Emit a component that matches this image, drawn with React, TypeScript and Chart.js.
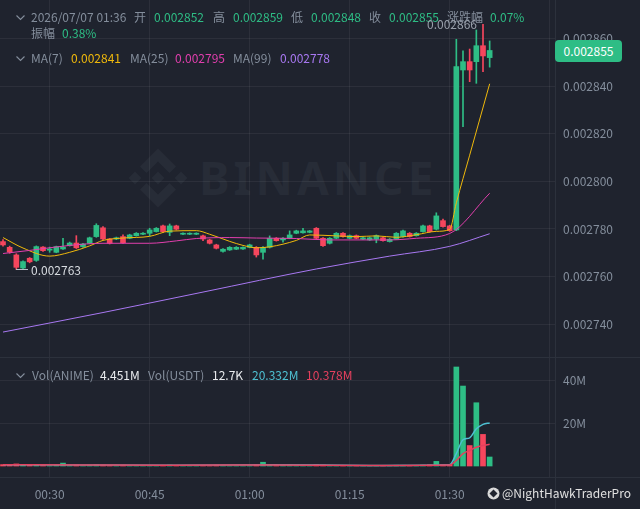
import React, { useEffect, useRef } from "react";
import { Chart, registerables } from "chart.js";

Chart.register(...registerables);

// ---------- data (1-minute candles, 00:23 … 01:36) ----------
const OPEN = [
  0.0027747, 0.0027723, 0.0027691, 0.0027636, 0.0027677, 0.0027668, 0.0027724, 0.0027711, 0.0027702, 0.0027716,
  0.0027730, 0.0027741, 0.0027726, 0.0027740, 0.0027768, 0.0027805, 0.0027758, 0.0027758, 0.0027768, 0.0027761,
  0.0027772, 0.0027778, 0.0027782, 0.0027789, 0.0027813, 0.0027786, 0.0027813, 0.0027778, 0.0027778, 0.0027778,
  0.0027771, 0.0027754, 0.0027733, 0.0027706, 0.0027712, 0.0027715, 0.0027716, 0.0027723, 0.0027723, 0.0027702,
  0.0027723, 0.0027761, 0.0027754, 0.0027761, 0.0027782, 0.0027784, 0.0027786, 0.0027803, 0.0027761, 0.0027740,
  0.0027761, 0.0027782, 0.0027761, 0.0027772, 0.0027757, 0.0027754, 0.0027757, 0.0027763, 0.0027747, 0.0027757,
  0.0027768, 0.0027782, 0.0027772, 0.0027789, 0.0027813, 0.0027799, 0.0027835, 0.0027813, 0.0027796, 0.0028468,
  0.0028503, 0.0028503, 0.0028570, 0.0028520,
];
const HIGH = [
  0.0027755, 0.0027728, 0.0027696, 0.0027666, 0.0027680, 0.0027729, 0.0027726, 0.0027724, 0.0027728, 0.0027761,
  0.0027745, 0.0027772, 0.0027740, 0.0027766, 0.0027822, 0.0027810, 0.0027760, 0.0027766, 0.0027775, 0.0027778,
  0.0027785, 0.0027785, 0.0027803, 0.0027806, 0.0027816, 0.0027821, 0.0027816, 0.0027784, 0.0027784, 0.0027784,
  0.0027774, 0.0027757, 0.0027736, 0.0027718, 0.0027726, 0.0027726, 0.0027725, 0.0027736, 0.0027726, 0.0027726,
  0.0027771, 0.0027764, 0.0027764, 0.0027792, 0.0027795, 0.0027803, 0.0027794, 0.0027806, 0.0027764, 0.0027764,
  0.0027785, 0.0027785, 0.0027775, 0.0027775, 0.0027766, 0.0027766, 0.0027775, 0.0027766, 0.0027760, 0.0027785,
  0.0027795, 0.0027785, 0.0027785, 0.0027816, 0.0027816, 0.0027868, 0.0027842, 0.0027816, 0.0028597, 0.0028548,
  0.0028556, 0.0028636, 0.0028660, 0.0028590,
];
const LOW = [
  0.0027728, 0.0027698, 0.0027630, 0.0027632, 0.0027658, 0.0027664, 0.0027706, 0.0027702, 0.0027700, 0.0027714,
  0.0027728, 0.0027718, 0.0027723, 0.0027738, 0.0027765, 0.0027755, 0.0027737, 0.0027755, 0.0027739, 0.0027759,
  0.0027770, 0.0027776, 0.0027772, 0.0027787, 0.0027786, 0.0027772, 0.0027796, 0.0027776, 0.0027776, 0.0027776,
  0.0027751, 0.0027737, 0.0027716, 0.0027703, 0.0027710, 0.0027713, 0.0027714, 0.0027721, 0.0027682, 0.0027673,
  0.0027720, 0.0027749, 0.0027745, 0.0027759, 0.0027780, 0.0027782, 0.0027784, 0.0027759, 0.0027727, 0.0027737,
  0.0027759, 0.0027766, 0.0027759, 0.0027759, 0.0027755, 0.0027752, 0.0027742, 0.0027749, 0.0027745, 0.0027755,
  0.0027766, 0.0027766, 0.0027770, 0.0027787, 0.0027787, 0.0027796, 0.0027808, 0.0027790, 0.0027793, 0.0028230,
  0.0028419, 0.0028412, 0.0028461, 0.0028480,
];
const CLOSE = [
  0.0027733, 0.0027703, 0.0027639, 0.0027663, 0.0027662, 0.0027726, 0.0027709, 0.0027716, 0.0027726, 0.0027724,
  0.0027741, 0.0027721, 0.0027737, 0.0027763, 0.0027815, 0.0027758, 0.0027740, 0.0027763, 0.0027742, 0.0027775,
  0.0027782, 0.0027782, 0.0027796, 0.0027803, 0.0027789, 0.0027813, 0.0027799, 0.0027782, 0.0027782, 0.0027782,
  0.0027758, 0.0027740, 0.0027719, 0.0027715, 0.0027723, 0.0027723, 0.0027723, 0.0027733, 0.0027691, 0.0027723,
  0.0027761, 0.0027751, 0.0027761, 0.0027775, 0.0027792, 0.0027792, 0.0027792, 0.0027761, 0.0027730, 0.0027761,
  0.0027782, 0.0027768, 0.0027772, 0.0027761, 0.0027763, 0.0027763, 0.0027772, 0.0027751, 0.0027757, 0.0027782,
  0.0027792, 0.0027768, 0.0027782, 0.0027813, 0.0027789, 0.0027855, 0.0027810, 0.0027793, 0.0028482, 0.0028503,
  0.0028468, 0.0028570, 0.0028527, 0.0028550,
];
// volume, millions of ANIME
const VOLUME_M = [
  0.9, 0.7, 1.2, 0.8, 0.6, 0.9, 0.5, 0.4, 0.6, 1.6,
  0.5, 0.7, 0.4, 0.6, 0.9, 0.7, 0.5, 0.3, 0.6, 0.4,
  0.5, 0.3, 0.5, 0.4, 0.6, 0.7, 0.5, 0.3, 0.3, 0.3,
  0.5, 0.4, 0.6, 0.4, 0.3, 0.3, 0.3, 0.4, 0.9, 2.0,
  1.0, 0.5, 0.6, 0.8, 0.5, 0.4, 0.3, 0.8, 0.7, 0.6,
  0.5, 0.4, 0.3, 0.3, 0.3, 0.3, 0.5, 0.4, 0.4, 0.6,
  0.6, 0.5, 0.4, 0.7, 0.8, 2.4, 0.9, 0.8, 46.5, 37.6,
  9.8, 29.8, 15.0, 4.451,
];

// moving-average lines (candle index -> value)
const MA7_IDX = [0, 3, 7, 10, 13, 15, 18, 22, 25, 29, 31, 34, 36, 38, 40, 44, 46, 50, 53, 56, 59, 62, 65, 67, 68, 70, 73];
const MA7_VAL = [
  0.0027764, 0.0027720, 0.0027686, 0.0027702, 0.0027729, 0.0027752, 0.0027762, 0.0027769, 0.0027791, 0.0027793,
  0.0027778, 0.0027748, 0.0027731, 0.0027721, 0.0027725, 0.0027752, 0.0027775, 0.0027771, 0.0027768, 0.0027771,
  0.0027765, 0.0027776, 0.0027790, 0.0027798, 0.0027910, 0.0028110, 0.0028410,
];
const MA25_IDX = [0, 4, 10, 15, 22, 26, 29, 34, 38, 44, 49, 58, 62, 67, 73];
const MA25_VAL = [
  0.0027697, 0.0027710, 0.0027731, 0.0027740, 0.0027740, 0.0027750, 0.0027760, 0.0027764, 0.0027762, 0.0027760,
  0.0027754, 0.0027754, 0.0027761, 0.0027781, 0.0027950,
];
const MA99_IDX = [0, 15, 30, 47, 58, 67, 73];
const MA99_VAL = [0.0027367, 0.0027449, 0.0027535, 0.0027632, 0.0027686, 0.0027727, 0.0027780];

const VMA_IDX = [0, 12, 25, 40, 55, 67, 68, 69, 70, 71, 72, 73];
const VMA_A = [0.8, 0.7, 0.6, 0.8, 0.5, 0.8, 6.0, 12.5, 13.4, 17.6, 19.7, 20.332];
const VMA_B = [0.8, 0.7, 0.6, 0.7, 0.5, 0.7, 2.8, 6.0, 7.5, 9.0, 9.8, 10.378];

const TIME_TICK_IDX = [7, 22, 37, 52, 67, 82];
const TIME_TICK_LABELS = ["00:30", "00:45", "01:00", "01:15", "01:30", ""];

const HEADER_TIME = "2026/07/07 01:36";
const CHANGE_PCT = "0.07%";
const AMPLITUDE_PCT = "0.38%";
const VOL_USDT = "12.7K";
const LOW_MARK = 0.002763;
const HIGH_MARK = 0.002866;

// ---------- style ----------
const BG = "#1f232e";
const GREEN = "#2ebd85";
const RED = "#f6465d";
const GRID = "rgba(255,255,255,0.06)";
const SEP = "#2c313c";
const TXT = "#848e9c";
const YELLOW = "#f0b90b";
const PINK = "#e23fae";
const PURPLE = "#a878f2";
const CYAN = "#4ec0d2";
const VRED = "#e5405e";
const FONT = '"Noto Sans CJK SC", "Noto Sans", sans-serif';

const X_MIN = -0.45;
const X_MAX = 82.8;
const P_MIN = 0.0027258;
const P_MAX = 0.0028762;
const V_MIN = -4.9;
const V_MAX = 50.7;

const IDX = OPEN.map((_, i) => i);
const COLORS = IDX.map((i) => (CLOSE[i] >= OPEN[i] ? GREEN : RED));
const LAST = OPEN.length - 1;

const pts = (xs: number[], ys: number[]) => xs.map((x, k) => ({ x, y: ys[k] }));

function Chevron({ left, top }: { left: number; top: number }) {
  return (
    <svg width={9} height={6} style={{ position: "absolute", left, top }}>
      <polyline points="0.5,0.5 4.5,4.5 8.5,0.5" fill="none" stroke={TXT} strokeWidth={1.1} />
    </svg>
  );
}

function T({ left, top, color, children, size }: any) {
  return (
    <span
      style={{
        position: "absolute",
        left,
        top,
        color,
        fontSize: size || 12,
        lineHeight: "14px",
        whiteSpace: "nowrap",
      }}
    >
      {children}
    </span>
  );
}

export default function App() {
  const priceRef = useRef<HTMLCanvasElement>(null);
  const volRef = useRef<HTMLCanvasElement>(null);

  useEffect(() => {
    const tickFont = { family: FONT, size: 12 };
    const xScale = (showLabels: boolean) => ({
      type: "linear",
      min: X_MIN,
      max: X_MAX,
      offset: false,
      grid: { color: GRID, drawTicks: false, offset: false },
      border: { display: false },
      ticks: {
        display: showLabels,
        autoSkip: false,
        maxRotation: 0,
        color: TXT,
        font: tickFont,
        padding: 10,
        callback: (_v: any, i: number) => TIME_TICK_LABELS[i],
      },
      afterBuildTicks: (s: any) => {
        s.ticks = TIME_TICK_IDX.map((v) => ({ value: v }));
      },
      afterFit: (s: any) => {
        s.height = showLabels ? 32 : 0;
        s.paddingLeft = 0;
        s.paddingRight = 0;
      },
    });

    const lineDs = (label: string, xs: number[], ys: number[], color: string, width = 1) => ({
      type: "line",
      label,
      data: pts(xs, ys),
      borderColor: color,
      borderWidth: width,
      pointRadius: 0,
      cubicInterpolationMode: "monotone",
      order: 0,
    });

    const c1 = new Chart(priceRef.current as HTMLCanvasElement, {
      type: "line",
      data: {
        datasets: [
          lineDs("MA99", MA99_IDX, MA99_VAL, PURPLE),
          lineDs("MA25", MA25_IDX, MA25_VAL, PINK),
          lineDs("MA7", MA7_IDX, MA7_VAL, YELLOW),
          {
            type: "bar",
            label: "wick",
            data: IDX.map((i) => ({ x: i, y: [LOW[i], HIGH[i]] })),
            backgroundColor: COLORS,
            barThickness: 1,
            grouped: false,
            order: 2,
          },
          {
            type: "bar",
            label: "body",
            data: IDX.map((i) => ({ x: i, y: [Math.min(OPEN[i], CLOSE[i]), Math.max(OPEN[i], CLOSE[i])] })),
            backgroundColor: COLORS,
            barThickness: 5,
            minBarLength: 1,
            grouped: false,
            order: 1,
          },
        ] as any,
      },
      options: {
        animation: false,
        responsive: false,
        maintainAspectRatio: false,
        events: [],
        layout: { padding: 0 },
        plugins: { legend: { display: false }, tooltip: { enabled: false } },
        scales: {
          x: xScale(false) as any,
          y: {
            type: "linear",
            position: "right",
            min: P_MIN,
            max: P_MAX,
            beginAtZero: false,
            grid: { color: GRID, drawTicks: false },
            border: { display: false },
            ticks: {
              stepSize: 0.00002,
              includeBounds: false,
              color: TXT,
              font: tickFont,
              padding: 8,
              callback: (v: any) => Number(v).toFixed(6),
            },
            afterFit: (s: any) => {
              s.width = 85;
              s.paddingTop = 0;
              s.paddingBottom = 0;
            },
          } as any,
        },
      },
    });

    const c2 = new Chart(volRef.current as HTMLCanvasElement, {
      type: "line",
      data: {
        datasets: [
          lineDs("vmaB", VMA_IDX, VMA_B, VRED, 1.5),
          lineDs("vmaA", VMA_IDX, VMA_A, CYAN, 1.5),
          {
            type: "bar",
            label: "vol",
            data: IDX.map((i) => ({ x: i, y: VOLUME_M[i] })),
            backgroundColor: COLORS,
            barThickness: 5,
            grouped: false,
            order: 1,
          },
        ] as any,
      },
      options: {
        animation: false,
        responsive: false,
        maintainAspectRatio: false,
        events: [],
        layout: { padding: 0 },
        plugins: { legend: { display: false }, tooltip: { enabled: false } },
        scales: {
          x: xScale(true) as any,
          y: {
            type: "linear",
            position: "right",
            min: V_MIN,
            max: V_MAX,
            beginAtZero: false,
            grid: {
              drawTicks: false,
              color: (ctx: any) => (ctx.tick && ctx.tick.value === 0 ? "rgba(0,0,0,0)" : GRID),
            },
            border: { display: false },
            ticks: {
              stepSize: 20,
              includeBounds: false,
              color: TXT,
              font: tickFont,
              padding: 8,
              callback: (v: any) => (Number(v) === 0 ? "" : `${v}M`),
            },
            afterFit: (s: any) => {
              s.width = 85;
              s.paddingTop = 0;
              s.paddingBottom = 0;
            },
          } as any,
        },
      },
    });

    return () => {
      c1.destroy();
      c2.destroy();
    };
  }, []);

  const f6 = (v: number) => v.toFixed(6);
  const row1 = 10;
  const row2 = 26;
  const rowMA = 51;
  const rowV = 368;

  return (
    <div
      style={{
        position: "fixed",
        left: 0,
        top: 0,
        width: 640,
        height: 509,
        background: BG,
        overflow: "hidden",
        fontFamily: FONT,
      }}
    >
      {/* watermark */}
      <svg width={60} height={60} viewBox="0 0 60 60" style={{ position: "absolute", left: 128, top: 148 }}>
        <g fill="#272c37">
          <polygon points="30,23.5 36.5,30 30,36.5 23.5,30" />
          <polygon points="7,23.5 13.5,30 7,36.5 0.5,30" />
          <polygon points="53,23.5 59.5,30 53,36.5 46.5,30" />
          <polygon points="30,0.5 48,18.5 41.5,25 30,13.5 18.5,25 12,18.5" />
          <polygon points="30,59.5 48,41.5 41.5,35 30,46.5 18.5,35 12,41.5" />
        </g>
      </svg>
      <div
        style={{
          position: "absolute",
          left: 199,
          top: 154,
          fontFamily: '"Noto Sans", sans-serif',
          fontWeight: 700,
          fontSize: 46,
          lineHeight: "46px",
          letterSpacing: 4,
          color: "#272c37",
          whiteSpace: "nowrap",
        }}
      >
        BINANCE
      </div>

      <canvas ref={priceRef} width={640} height={358} style={{ position: "absolute", left: 0, top: 0 }} />
      <canvas ref={volRef} width={640} height={151} style={{ position: "absolute", left: 0, top: 358 }} />

      {/* pane separators */}
      <div style={{ position: "absolute", left: 0, top: 357, width: 640, height: 1, background: SEP }} />
      <div style={{ position: "absolute", left: 0, top: 477, width: 640, height: 1, background: SEP }} />
      <div style={{ position: "absolute", left: 555, top: 0, width: 1, height: 509, background: SEP }} />

      {/* header legend */}
      <Chevron left={16} top={row1 + 5} />
      <T left={31} top={row1} color={TXT}>{HEADER_TIME}</T>
      <T left={134} top={row1} color={TXT}>开</T>
      <T left={154} top={row1} color={GREEN}>{f6(OPEN[LAST])}</T>
      <T left={213} top={row1} color={TXT}>高</T>
      <T left={233} top={row1} color={GREEN}>{f6(HIGH[LAST])}</T>
      <T left={291} top={row1} color={TXT}>低</T>
      <T left={311} top={row1} color={GREEN}>{f6(LOW[LAST])}</T>
      <T left={369} top={row1} color={TXT}>收</T>
      <T left={389} top={row1} color={GREEN}>{f6(CLOSE[LAST])}</T>
      <T left={447} top={row1} color={TXT}>涨跌幅</T>
      <T left={490} top={row1} color={GREEN}>{CHANGE_PCT}</T>
      <T left={31} top={row2} color={TXT}>振幅</T>
      <T left={62} top={row2} color={GREEN}>{AMPLITUDE_PCT}</T>

      <Chevron left={16} top={rowMA + 5} />
      <T left={31} top={rowMA} color={TXT}>MA(7)</T>
      <T left={71} top={rowMA} color={YELLOW}>{f6(MA7_VAL[MA7_VAL.length - 1])}</T>
      <T left={130} top={rowMA} color={TXT}>MA(25)</T>
      <T left={175} top={rowMA} color={PINK}>{f6(MA25_VAL[MA25_VAL.length - 1])}</T>
      <T left={233} top={rowMA} color={TXT}>MA(99)</T>
      <T left={280} top={rowMA} color={PURPLE}>{f6(MA99_VAL[MA99_VAL.length - 1])}</T>

      {/* high / low markers */}
      <T left={427} top={17} color="#9aa1ac">{f6(HIGH_MARK)}</T>
      <div style={{ position: "absolute", left: 16, top: 269, width: 12, height: 1, background: "#b7bdc6" }} />
      <T left={31} top={263} color="#d8dce1">{f6(LOW_MARK)}</T>

      {/* last price tag */}
      <div
        style={{
          position: "absolute",
          left: 555,
          top: 40,
          width: 67,
          height: 22,
          borderRadius: 4,
          background: GREEN,
          color: "#ffffff",
          fontSize: 12,
          lineHeight: "22px",
          textAlign: "center",
        }}
      >
        {f6(CLOSE[LAST])}
      </div>

      {/* volume legend */}
      <Chevron left={16} top={rowV + 5} />
      <T left={32} top={rowV} color={TXT}>Vol(ANIME)</T>
      <T left={100} top={rowV} color="#eaecef">{`${VOLUME_M[LAST].toFixed(3)}M`}</T>
      <T left={148} top={rowV} color={TXT}>Vol(USDT)</T>
      <T left={212} top={rowV} color="#eaecef">{VOL_USDT}</T>
      <T left={252} top={rowV} color={CYAN}>{`${VMA_A[VMA_A.length - 1].toFixed(3)}M`}</T>
      <T left={306} top={rowV} color={VRED}>{`${VMA_B[VMA_B.length - 1].toFixed(3)}M`}</T>

      {/* author watermark */}
      <svg width={13} height={13} viewBox="0 0 13 13" style={{ position: "absolute", left: 487, top: 487 }}>
        <circle cx={6.5} cy={6.5} r={6} fill="#d9d9d9" />
        <polygon points="6.5,2.5 10.5,6.5 6.5,10.5 2.5,6.5" fill={BG} />
      </svg>
      <T left={502} top={486} color="#e0e0e0">@NightHawkTraderPro</T>
    </div>
  );
}
